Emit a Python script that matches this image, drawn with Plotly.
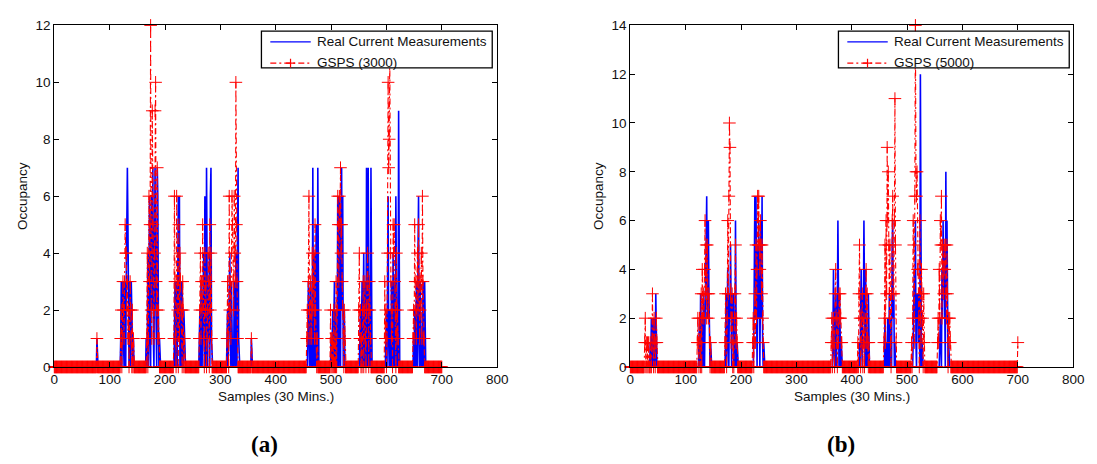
import numpy as np
import plotly.graph_objects as go

# ---------------------------------------------------------------------------
# Occupancy per 30-minute sample (samples 0..700). Only non-zero samples are
# listed; every other sample is 0.
# ---------------------------------------------------------------------------
N_SAMPLES = 701

# (a) real current measurements
real_a_samples = [77,
                  120, 121, 123, 124, 125, 127, 128, 130, 131, 132, 133, 134, 136, 137, 139, 140, 141, 143,
                  166, 168, 169, 171, 172, 173, 175, 176, 177, 178, 179, 181, 182, 183, 184, 186, 187, 188, 190,
                  217, 218, 220, 221, 223, 224, 225, 226, 228, 229, 231, 232, 234, 235,
                  262, 263, 265, 266, 268, 269, 270, 272, 273, 275, 276, 278, 279, 280, 282, 283, 284,
                  312, 313, 315, 316, 317, 318, 320, 321, 323, 325, 326, 328, 329, 331, 332, 333,
                  356,
                  458, 459, 460, 462, 463, 465, 467, 468, 470, 471, 473, 474, 476, 477,
                  500, 502, 503, 505, 506, 508, 510, 512, 513, 515, 516, 518, 519, 520, 521, 523, 524,
                  552, 553, 555, 556, 558, 559, 561, 562, 564, 565, 567, 568, 570, 572, 573,
                  599, 600, 602, 603, 604, 606, 607, 609, 610, 612, 613, 615, 617, 618, 620, 622, 623,
                  649, 651, 652, 654, 655, 657, 658, 659, 661, 662, 664, 666, 667, 669, 670]
real_a_values = [1,
                 1, 3, 2, 3, 1, 3, 2, 3, 5, 7, 5, 2, 3, 1, 3, 1, 1, 1,
                 1, 1, 4, 2, 6, 1, 5, 6, 2, 7, 1, 4, 7, 3, 1, 7, 6, 2, 1,
                 1, 3, 1, 3, 2, 6, 1, 6, 3, 2, 3, 1, 2, 1,
                 1, 2, 3, 1, 2, 3, 4, 6, 3, 7, 2, 3, 1, 4, 6, 7, 1,
                 1, 2, 1, 3, 4, 1, 3, 2, 1, 3, 2, 4, 2, 5, 7, 1,
                 1,
                 1, 3, 2, 1, 3, 2, 7, 1, 4, 2, 5, 1, 7, 2,
                 1, 1, 2, 1, 3, 2, 1, 6, 2, 6, 3, 5, 7, 2, 6, 1, 2,
                 1, 2, 1, 3, 2, 4, 1, 3, 7, 2, 7, 3, 1, 7, 1,
                 1, 2, 3, 6, 1, 2, 1, 3, 1, 4, 2, 3, 6, 1, 2, 9, 1,
                 1, 2, 1, 3, 2, 4, 6, 1, 3, 2, 1, 3, 1, 3, 1]

# (a) GSPS prediction, 3000 iterations
gsps_a_samples = [77,
                  120, 121, 123, 124, 125, 126, 127, 128, 129, 130, 131, 132, 133, 134, 136, 137, 138, 139, 141, 143,
                  167, 168, 170, 171, 172, 173, 174, 175, 176, 177, 178, 179, 180, 181, 182, 183, 184, 185, 186, 187, 188, 189,
                  216, 217, 218, 219, 221, 222, 223, 225, 226, 227, 228, 229, 230, 232, 233, 235,
                  262, 263, 264, 265, 266, 267, 268, 269, 270, 272, 273, 274, 276, 277, 278, 279, 281, 282, 283, 284,
                  312, 313, 314, 316, 317, 318, 319, 320, 321, 322, 323, 324, 325, 326, 327, 328, 329, 330, 331,
                  356,
                  456, 457, 458, 459, 460, 461, 462, 463, 464, 465, 466, 467, 468, 469, 470, 471, 472, 473, 475,
                  499, 501, 503, 505, 507, 509, 511, 512, 513, 514, 515, 516, 517, 518, 519, 520, 521, 522, 524, 525,
                  550, 551, 552, 553, 555, 557, 558, 560, 561, 562, 564, 565, 566, 567, 569, 570, 571,
                  597, 598, 599, 601, 602, 603, 604, 605, 606, 607, 608, 609, 610, 612, 613, 614, 615, 616, 618, 619, 620, 621,
                  648, 649, 650, 651, 652, 653, 654, 655, 656, 657, 658, 659, 660, 661, 662, 663, 664, 665, 666, 667, 668]
gsps_a_values = [1,
                 1, 2, 1, 3, 2, 1, 3, 5, 4, 4, 2, 3, 1, 2, 1, 3, 2, 1, 2, 1,
                 1, 4, 1, 6, 3, 5, 12, 2, 1, 9, 5, 2, 1, 4, 9, 10, 3, 2, 7, 1, 2, 1,
                 1, 6, 3, 1, 6, 3, 2, 5, 1, 4, 3, 2, 2, 3, 2, 1,
                 1, 2, 4, 1, 3, 2, 5, 3, 1, 4, 2, 3, 1, 2, 4, 3, 5, 2, 4, 1,
                 1, 3, 1, 6, 2, 3, 1, 4, 6, 5, 3, 2, 6, 4, 3, 10, 5, 3, 1,
                 1,
                 1, 2, 1, 3, 6, 2, 1, 3, 2, 1, 4, 2, 3, 4, 1, 5, 2, 1, 1,
                 2, 1, 1, 2, 1, 3, 2, 6, 5, 3, 6, 5, 7, 4, 5, 3, 2, 1, 2, 1,
                 2, 4, 1, 2, 1, 2, 3, 2, 3, 1, 2, 3, 4, 2, 3, 2, 1,
                 3, 1, 2, 1, 4, 10, 7, 8, 11, 4, 3, 1, 2, 5, 4, 5, 3, 2, 4, 1, 2, 1,
                 1, 2, 1, 5, 3, 2, 1, 3, 4, 2, 5, 3, 1, 2, 3, 4, 1, 6, 3, 1, 1]

# (b) real current measurements
real_b_samples = [36, 38, 39, 41, 42, 44, 46, 47,
                  124, 125, 127, 128, 130, 132, 133, 135, 136, 137, 138, 139, 140, 141, 142, 143, 145,
                  172, 173, 175, 176, 177, 179, 180, 181, 182, 184, 185, 186, 188, 190, 191, 193,
                  223, 224, 225, 226, 227, 228, 230, 231, 232, 233, 235, 236, 237, 238, 239, 241,
                  366, 367, 368, 370, 371, 373, 374, 375, 376, 378, 379, 381,
                  414, 416, 417, 418, 420, 421, 422, 423, 425, 426, 428, 430, 431,
                  460, 461, 463, 465, 466, 468, 469, 471, 473, 474, 475, 476, 478,
                  511, 512, 513, 514, 515, 516, 518, 519, 520, 521, 522, 524, 525, 527,
                  559, 560, 561, 563, 564, 565, 566, 567, 568, 570, 571, 572, 573, 575]
real_b_values = [1, 2, 1, 2, 1, 2, 3, 1,
                 1, 2, 3, 1, 2, 3, 1, 2, 3, 5, 7, 2, 4, 6, 3, 1, 1,
                 1, 3, 2, 4, 1, 3, 2, 5, 1, 3, 2, 3, 1, 6, 2, 1,
                 1, 4, 7, 2, 7, 3, 5, 2, 6, 4, 3, 6, 2, 7, 1, 1,
                 1, 4, 1, 2, 3, 1, 2, 6, 1, 3, 2, 1,
                 1, 2, 4, 1, 3, 2, 6, 1, 4, 2, 1, 3, 1,
                 2, 1, 1, 2, 1, 3, 1, 2, 5, 6, 2, 3, 1,
                 1, 2, 4, 2, 6, 1, 3, 2, 3, 1, 3, 12, 2, 1,
                 1, 2, 1, 4, 2, 6, 3, 5, 2, 8, 3, 6, 2, 1]

# (b) GSPS prediction, 5000 iterations
gsps_b_samples = [26, 27, 29, 31, 33, 36, 39, 40, 41, 43, 44, 46, 47, 48,
                  121, 122, 123, 125, 126, 128, 130, 131, 132, 133, 134, 135, 136, 137, 138, 139, 140, 141, 142, 143, 145,
                  171, 172, 173, 175, 176, 177, 178, 179, 180, 181, 182, 183, 184, 186, 188, 189, 190, 191, 192, 193,
                  221, 222, 224, 225, 226, 227, 228, 229, 230, 231, 232, 233, 234, 235, 236, 237, 238, 239, 240,
                  363, 364, 366, 367, 368, 370, 371, 372, 373, 375, 376, 377, 378, 379, 380, 381, 382,
                  411, 413, 414, 415, 417, 418, 419, 421, 422, 424, 425, 426, 427, 428, 429, 431,
                  458, 459, 460, 461, 462, 463, 464, 465, 466, 467, 468, 469, 470, 472, 473, 474, 475, 476, 477, 478, 479, 480,
                  508, 510, 511, 512, 513, 514, 515, 516, 517, 518, 519, 520, 521, 523, 524, 525, 526, 527, 528, 530, 531,
                  555, 556, 557, 558, 559, 560, 561, 562, 563, 564, 565, 566, 567, 568, 569, 570, 571, 572, 573, 575, 576, 577, 578,
                  700]
gsps_b_values = [1, 2, 1, 1, 1, 1, 1, 3, 1, 2, 1, 1, 2, 1,
                 1, 2, 1, 2, 1, 3, 4, 2, 3, 2, 4, 6, 3, 5, 2, 5, 3, 2, 3, 1, 1,
                 1, 3, 1, 2, 6, 3, 7, 10, 9, 3, 1, 2, 3, 1, 2, 3, 5, 1, 2, 1,
                 1, 2, 1, 3, 1, 5, 2, 4, 7, 5, 7, 5, 4, 6, 5, 3, 5, 2, 1,
                 1, 2, 1, 2, 1, 3, 4, 2, 1, 2, 1, 3, 2, 3, 2, 1, 1,
                 1, 3, 5, 2, 1, 2, 3, 1, 2, 1, 3, 4, 1, 3, 1, 1,
                 1, 2, 5, 1, 6, 3, 9, 6, 8, 5, 2, 5, 1, 3, 6, 7, 3, 3, 6, 11, 5, 1,
                 1, 2, 6, 5, 1, 7, 14, 8, 7, 8, 4, 4, 2, 6, 2, 1, 4, 3, 2, 3, 1,
                 1, 2, 1, 4, 2, 6, 5, 7, 2, 5, 4, 3, 5, 4, 5, 3, 2, 5, 3, 2, 1, 2, 1,
                 1]

y_ticks_a = [0, 2, 4, 6, 8, 10, 12]
y_ticks_b = [0, 2, 4, 6, 8, 10, 12, 14]
x_ticks = [0, 100, 200, 300, 400, 500, 600, 700, 800]


def full_series(samples, values):
    series = np.zeros(N_SAMPLES)
    series[np.array(samples)] = values
    return series


samples = np.arange(N_SAMPLES)

W, H = 1097, 464
FONT = "Liberation Sans, Arial, sans-serif"
BLUE = "#0000ff"
RED = "#ff0000"
RED_DASH = "6px,3px,2px,3px"
TEXT = "#111"

# plot-area pixel boxes
left_box = (51, 500)
right_box = (635, 1084)
top_px, bottom_px = 19, 372


def px_x(p):
    return p / W


def px_y(p):
    return 1 - p / H


fig = go.Figure()

panels = [
    ("x", "y", real_a_samples, real_a_values, gsps_a_samples, gsps_a_values, "GSPS (3000)", 261),
    ("x2", "y2", real_b_samples, real_b_values, gsps_b_samples, gsps_b_values, "GSPS (5000)", 846),
]

for xa, ya, rs, rv, gs, gv, gname, _ in panels:
    fig.add_trace(go.Scatter(
        x=samples, y=full_series(rs, rv), xaxis=xa, yaxis=ya,
        mode="lines", name="Real Current Measurements", showlegend=False,
        line=dict(color=BLUE, width=1.6),
    ))
    fig.add_trace(go.Scatter(
        x=samples, y=full_series(gs, gv), xaxis=xa, yaxis=ya,
        mode="lines+markers", name=gname, cliponaxis=False, showlegend=False,
        line=dict(color=RED, width=1.1, dash=RED_DASH),
        marker=dict(symbol="cross-thin", size=9, color=RED,
                    line=dict(color=RED, width=1)),
    ))

axis_common = dict(
    showline=True, linecolor="black", linewidth=1, mirror="ticks",
    ticks="inside", ticklen=5, tickwidth=1, tickcolor="black",
    showgrid=False, zeroline=False,
    tickfont=dict(family=FONT, size=13.5, color=TEXT),
)

fig.update_layout(
    width=W, height=H, autosize=False,
    margin=dict(l=0, r=0, t=0, b=0),
    paper_bgcolor="white", plot_bgcolor="white",
    showlegend=False,
    xaxis=dict(domain=[px_x(left_box[0]), px_x(left_box[1])], range=[0, 800],
               tickvals=x_ticks, anchor="y", **axis_common),
    yaxis=dict(domain=[px_y(bottom_px), px_y(top_px)], range=[0, 12],
               tickvals=y_ticks_a, anchor="x", **axis_common),
    xaxis2=dict(domain=[px_x(right_box[0]), px_x(right_box[1])], range=[0, 800],
                tickvals=x_ticks, anchor="y2", **axis_common),
    yaxis2=dict(domain=[px_y(bottom_px), px_y(top_px)], range=[0, 14],
                tickvals=y_ticks_b, anchor="x2", **axis_common),
)

label_font = dict(family=FONT, size=13.5, color=TEXT)
legend_font = dict(family=FONT, size=13.5, color=TEXT)
caption_font = dict(family="Liberation Serif, serif", size=23, color="black")

# legend boxes, drawn in page pixels
LEG_W, LEG_TOP, LEG_BOT = 234, 25, 63
ROW1, ROW2 = 36, 58
for _, _, _, _, _, _, gname, lx in panels:
    fig.add_shape(type="rect", xref="paper", yref="paper",
                  x0=px_x(lx), x1=px_x(lx + LEG_W), y0=px_y(LEG_BOT), y1=px_y(LEG_TOP),
                  line=dict(color="black", width=1.3), fillcolor="white", layer="above")
    fig.add_shape(type="line", xref="paper", yref="paper",
                  x0=px_x(lx + 9), x1=px_x(lx + 50), y0=px_y(ROW1), y1=px_y(ROW1),
                  line=dict(color=BLUE, width=1.2), layer="above")
    fig.add_shape(type="line", xref="paper", yref="paper",
                  x0=px_x(lx + 9), x1=px_x(lx + 50), y0=px_y(ROW2), y1=px_y(ROW2),
                  line=dict(color=RED, width=1.1, dash=RED_DASH), layer="above")
    cx = lx + 29.5
    fig.add_shape(type="path", xref="paper", yref="paper",
                  path=(f"M {px_x(cx - 4.5)},{px_y(ROW2)} L {px_x(cx + 4.5)},{px_y(ROW2)} "
                        f"M {px_x(cx)},{px_y(ROW2 - 4.5)} L {px_x(cx)},{px_y(ROW2 + 4.5)}"),
                  line=dict(color=RED, width=1.2), layer="above")
    fig.add_annotation(text="Real Current Measurements", xref="paper", yref="paper",
                       x=px_x(lx + 54), y=px_y(ROW1), xanchor="left", yanchor="middle",
                       showarrow=False, font=legend_font)
    fig.add_annotation(text=gname, xref="paper", yref="paper",
                       x=px_x(lx + 54), y=px_y(ROW2 - 1), xanchor="left", yanchor="middle",
                       showarrow=False, font=legend_font)

for cx, oy_x, cap_x, cap in [
    ((left_box[0] + left_box[1]) / 2, 18, 264, "<b>(a)</b>"),
    ((right_box[0] + right_box[1]) / 2, 602, 849, "<b>(b)</b>"),
]:
    fig.add_annotation(text="Samples (30 Mins.)", xref="paper", yref="paper",
                       x=px_x(cx), y=px_y(402), xanchor="center", yanchor="middle",
                       showarrow=False, font=label_font)
    fig.add_annotation(text="Occupancy", xref="paper", yref="paper",
                       x=px_x(oy_x), y=px_y((top_px + bottom_px) / 2),
                       xanchor="center", yanchor="middle", textangle=-90,
                       showarrow=False, font=label_font)
    fig.add_annotation(text=cap, xref="paper", yref="paper",
                       x=px_x(cap_x), y=px_y(452), xanchor="center", yanchor="middle",
                       showarrow=False, font=caption_font)

fig.write_html("out.html")
